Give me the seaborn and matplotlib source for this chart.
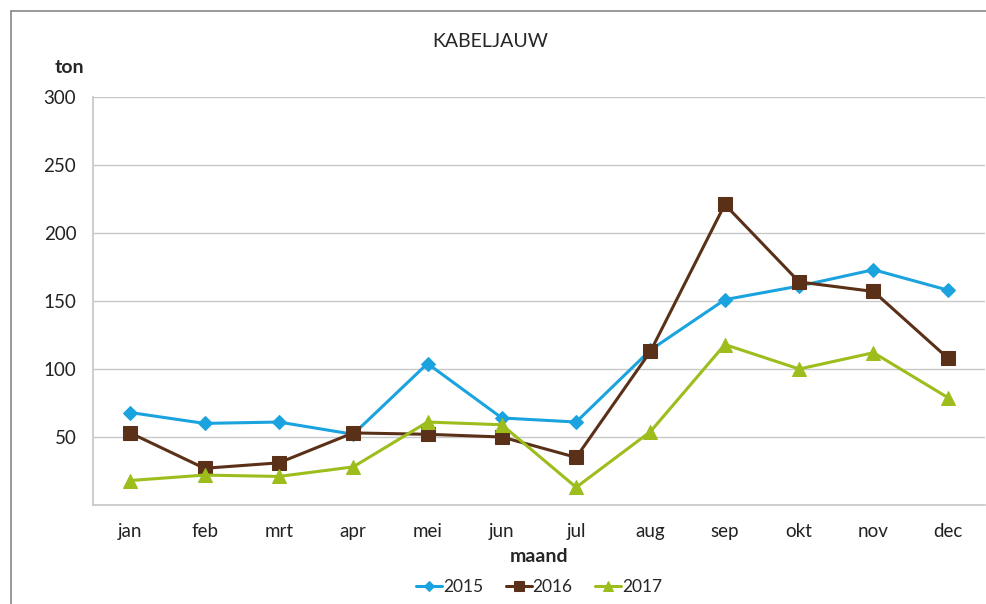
import numpy as np
import pandas as pd
import matplotlib
matplotlib.use("Agg")
import matplotlib.pyplot as plt
import seaborn as sns
from matplotlib.lines import Line2D

months = ["jan", "feb", "mrt", "apr", "mei", "jun", "jul", "aug", "sep", "okt", "nov", "dec"]
v2015 = [68, 60, 61, 52, 104, 64, 61, 114, 151, 161, 173, 158]
v2016 = [53, 27, 31, 53, 52, 50, 35, 113, 221, 164, 157, 108]
v2017 = [18, 22, 21, 28, 61, 59, 13, 54, 118, 100, 112, 79]
years = ["2015", "2016", "2017"]

df = pd.DataFrame({
    "maand": months * 3,
    "pos": list(range(12)) * 3,
    "ton": v2015 + v2016 + v2017,
    "jaar": [y for y in years for _ in months],
})

sns.set_theme(style="white")
plt.rcParams["font.family"] = ["Lato", "DejaVu Sans"]

colors = {"2015": "#1aa3df", "2016": "#5a3118", "2017": "#9cbd1c"}
markers = {"2015": "D", "2016": "s", "2017": "^"}
sizes = {"2015": 7, "2016": 10, "2017": 10}

fig = plt.figure(figsize=(9.86, 6.04), dpi=100)
ax = fig.add_axes([93 / 986, 1 - 505 / 604, (985 - 93) / 986, (505 - 97) / 604])

for y in years:
    sub = df[df["jaar"] == y]
    sns.lineplot(data=sub, x="pos", y="ton", ax=ax, color=colors[y], marker=markers[y],
                 markersize=sizes[y], markeredgecolor=colors[y], linewidth=2.2, label=y)

ax.set_xlim(-0.5, 11.5)
ax.set_ylim(0, 300)
ax.set_yticks([50, 100, 150, 200, 250, 300])
ax.set_xticks(range(12))
ax.set_xticklabels(months)
ax.set_xticks(np.arange(-0.5, 12, 1), minor=True)
ax.tick_params(axis="x", which="major", length=0, labelsize=13.5, colors="#222222", pad=13)
ax.tick_params(axis="x", which="minor", length=6, width=1, color="#c8c8c8", direction="out")
ax.tick_params(axis="y", which="major", length=6, width=1, color="#c8c8c8", labelsize=13.5,
               colors="#222222", pad=6, direction="out")
ax.tick_params(axis="y", colors="#c8c8c8", labelcolor="#222222")
ax.grid(axis="y", color="#c8c8c8", linewidth=1)
ax.grid(axis="x", visible=False)
for s in ["top", "right"]:
    ax.spines[s].set_visible(False)
ax.spines["left"].set_color("#c8c8c8")
ax.spines["bottom"].set_color("#c8c8c8")
ax.set_xlabel("maand", fontsize=14, fontweight="bold", labelpad=6)
ax.set_ylabel("")
ax.text(-0.026, 1.072, "ton", transform=ax.transAxes, fontsize=14, fontweight="bold",
        ha="center", va="center")
fig.text(0.497, 0.932, "KABELJAUW", fontsize=14, ha="center", va="center")

leg = ax.legend(loc="center", bbox_to_anchor=(0.5, -0.201), ncol=3, frameon=False,
                fontsize=12.5, handlelength=1.5, handletextpad=0.05, columnspacing=1.3,
                markerscale=0.75)

# outer chart frame (top and left edges visible)
x0, y0 = 11 / 986, 1 - 11 / 604
fig.add_artist(Line2D([x0, 1.0], [y0, y0], transform=fig.transFigure, color="#888888", lw=1.2))
fig.add_artist(Line2D([x0, x0], [0.0, y0], transform=fig.transFigure, color="#888888", lw=1.2))

fig.savefig("out.png", dpi=100)
